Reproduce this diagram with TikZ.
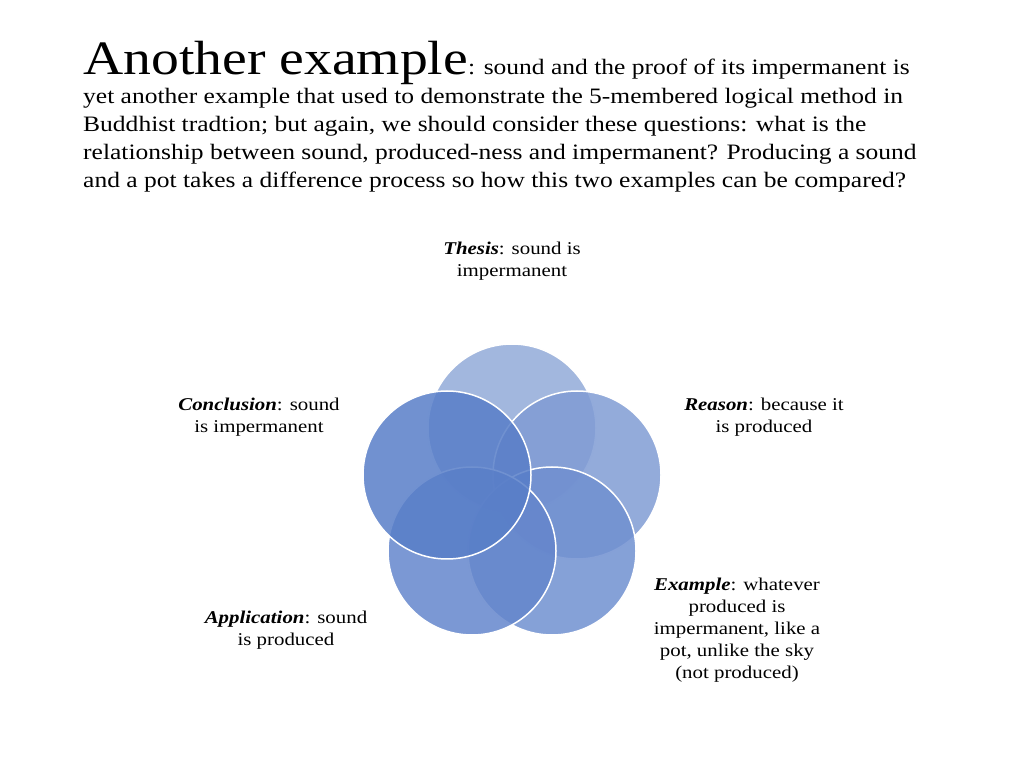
\documentclass[tikz,border=0pt]{standalone}
\usepackage{fontspec}
\setmainfont[FakeStretch=1.16]{Liberation Serif}
\usetikzlibrary{positioning}
\definecolor{circA}{RGB}{146, 170, 216}
\definecolor{circB}{RGB}{128, 156, 212}
\definecolor{circC}{RGB}{112, 144, 208}
\definecolor{circD}{RGB}{100, 134, 204}
\definecolor{circE}{RGB}{88, 126, 200}
\tikzset{
  member/.style={circle, draw=white, line width=1.5pt, minimum size=168pt,
                 inner sep=0pt, fill opacity=0.85},
  label/.style={font=\fontsize{18}{22}\selectfont, align=center}
}
\begin{document}
\begin{tikzpicture}[x=1pt, y=1pt]
  \useasboundingbox (0,0) rectangle (1024,768);
  % title and text
  \node [anchor=base west, inner sep=0pt] (title) at (83,693)
        {{\fontsize{48}{52}\selectfont Another example}{\fontsize{22}{28}\selectfont: sound and the proof of its impermanent is}};
  \node [anchor=north west, inner sep=0pt, align=left,
         font=\fontsize{22}{28}\selectfont] (body) at (83,680)
        {yet another example that used to demonstrate the 5-membered logical method in\\
         Buddhist tradtion; but again, we should consider these questions: what is the\\
         relationship between sound, produced-ness and impermanent? Producing a sound\\
         and a pot takes a difference process so how this two examples can be compared?};
  % circles
  \node [member, fill=circA] (thesis) at (512,340) {};
  \node [member, fill=circB] (reason) at (577,293) {};
  \node [member, fill=circC] (example) at (552,217) {};
  \node [member, fill=circD] (application) at (472,217) {};
  \node [member, fill=circE] (conclusion) at (447,293) {};
  % labels
  \node [label] (thesislbl) at (512,507) {\textbf{\textit{Thesis}}: sound is\\impermanent};
  \node [label] (reasonlbl) at (764,351) {\textbf{\textit{Reason}}: because it\\is produced};
  \node [label] (examplelbl) at (737,138) {\textbf{\textit{Example}}: whatever\\produced is\\impermanent, like a\\pot, unlike the sky\\(not produced)};
  \node [label] (applicationlbl) at (286,138) {\textbf{\textit{Application}}: sound\\is produced};
  \node [label] (conclusionlbl) at (259,351) {\textbf{\textit{Conclusion}}: sound\\is impermanent};
\end{tikzpicture}
\end{document}
